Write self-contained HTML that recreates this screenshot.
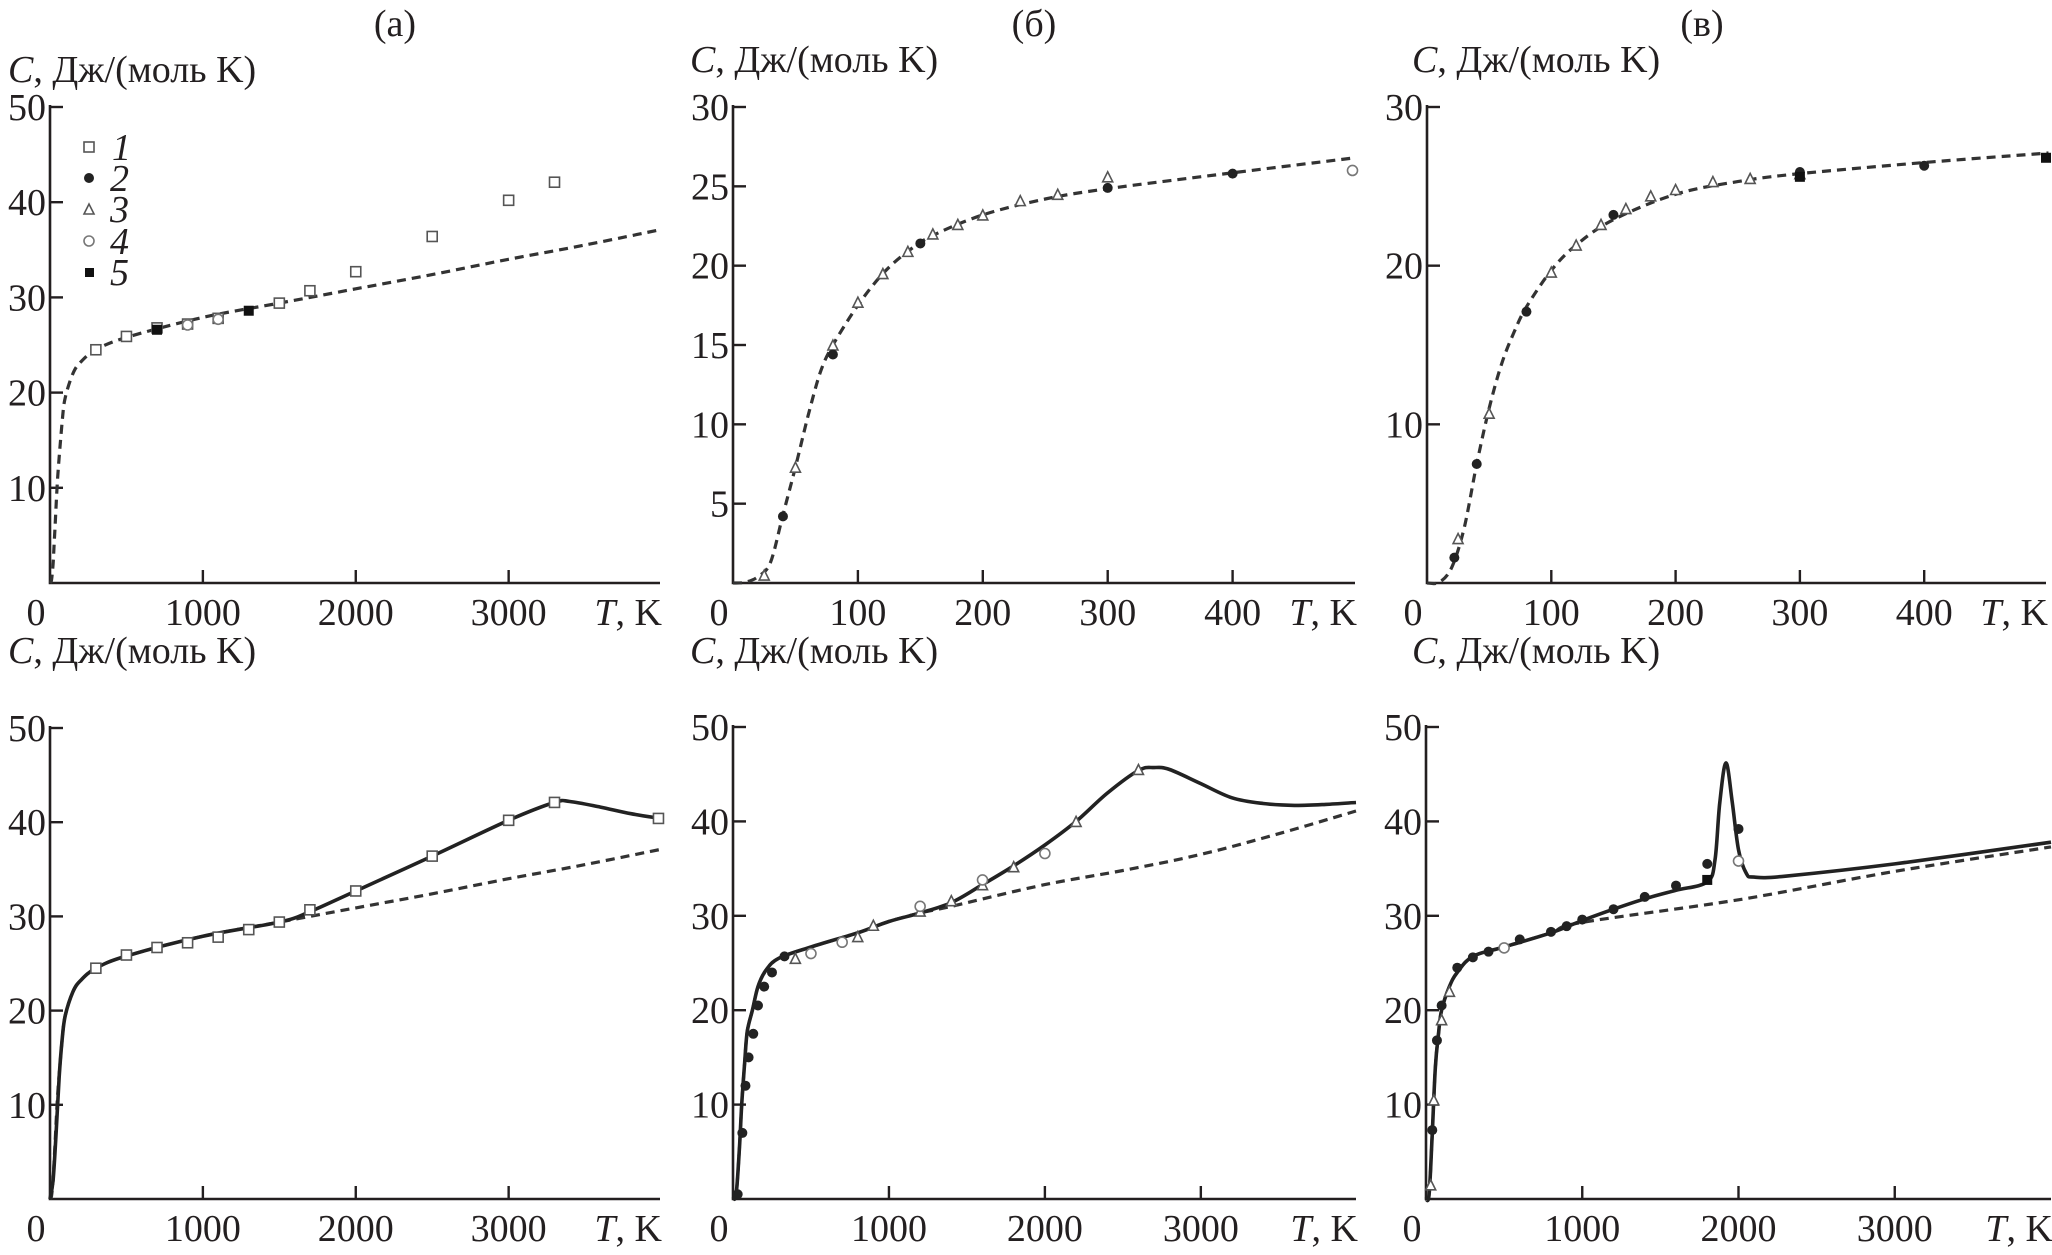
<!DOCTYPE html>
<html><head><meta charset="utf-8">
<style>
html,body{margin:0;padding:0;background:#fff;}
svg{display:block;}
svg text{font-family:"Liberation Serif","Times New Roman","DejaVu Serif",serif;fill:#231f20;}
</style></head>
<body>
<svg id="fig" width="2052" height="1255" viewBox="0 0 2052 1255" xmlns="http://www.w3.org/2000/svg" font-family="Liberation Serif, serif">
<text x="395" y="36" font-size="38" text-anchor="middle">(a)</text>
<text x="1034" y="36" font-size="38" text-anchor="middle">(б)</text>
<text x="1702" y="36" font-size="38" text-anchor="middle">(в)</text>
<g>
<rect x="84" y="142" width="10" height="10" fill="none" stroke="#555" stroke-width="1.6"/>
<text x="112" y="160" font-size="38" font-style="italic">1</text>
<circle cx="89" cy="178" r="5" fill="#222"/>
<text x="110" y="191" font-size="38" font-style="italic">2</text>
<path d="M84 214 L89 204 L94 214 Z" fill="none" stroke="#555" stroke-width="1.6"/>
<text x="110" y="222" font-size="38" font-style="italic">3</text>
<circle cx="89" cy="241" r="5" fill="none" stroke="#777" stroke-width="1.6"/>
<text x="110" y="254" font-size="38" font-style="italic">4</text>
<rect x="85" y="268" width="9" height="9" fill="#111"/>
<text x="110" y="285" font-size="38" font-style="italic">5</text>
</g>
</svg>
<script>
// ---------- data ----------
// top (a)
const aTopDashT = [0,10,20,30,50,80,100,150,200,300,500,1000,1500,2000,2500,3000,3500,3990];
const aTopDashC = [0,0.3,2,5,11,17,19.5,22,23.2,24.5,25.8,27.9,29.4,30.9,32.4,34.0,35.5,37.1];
const aSqT = [300,500,700,900,1100,1500,1700,2000,2500,3000,3300];
const aSqC = [24.5,25.9,26.8,27.2,27.8,29.4,30.7,32.7,36.4,40.2,42.1];
const aFillSqT = [700,1300];
const aFillSqC = [26.6,28.6];
const aCircT = [900,1100];
const aCircC = [27.1,27.7];
// bottom (a)
const aBotSolidT = [0,20,40,60,80,100,150,200,300,500,1000,1500,1700,2000,2500,3000,3300,3400,3600,3800,3990];
const aBotSolidC = [0,2,7,13,17,19.5,22,23.2,24.5,25.8,27.9,29.4,30.5,32.7,36.4,40.2,42.1,42.2,41.6,40.9,40.4];
const aBotSqT = [300,500,700,900,1100,1300,1500,1700,2000,2500,3000,3300,3980];
const aBotSqC = [24.5,25.9,26.7,27.2,27.8,28.6,29.4,30.7,32.7,36.4,40.2,42.1,40.4];
// top (б)
const bTopDashT = [0,10,20,30,40,50,60,70,80,100,120,140,160,200,250,300,400,498];
const bTopDashC = [0,0.05,0.4,1.3,4.3,7.3,10.5,13.3,15,17.5,19.5,20.9,21.9,23.2,24.2,24.85,25.85,26.8];
const bTopTriT = [25,50,80,100,120,140,160,180,200,230,260,300];
const bTopTriC = [0.5,7.3,15,17.7,19.5,20.9,22,22.6,23.2,24.1,24.5,25.6];
const bTopDotT = [40,80,150,300,400];
const bTopDotC = [4.2,14.4,21.4,24.9,25.8];
const bTopCircT = [496];
const bTopCircC = [26];
// bottom (б)
const bBotSolidT = [0,20,40,56,75,92,126,160,210,293,500,800,1000,1200,1400,1600,1800,2000,2200,2400,2600,2700,2800,3000,3200,3400,3600,3800,3995];
const bBotSolidC = [0,0.5,5,10,14.5,17.8,20.1,22.5,24.2,25.5,26.7,28.2,29.4,30.3,31.4,33.3,35.3,37.5,40,43,45.4,45.7,45.5,44,42.5,41.9,41.7,41.8,42.0];
const bBotDashT = [0,20,40,56,75,92,126,160,210,293,500,800,1000,1200,1400,2000,2500,3000,3500,3995];
const bBotDashC = [0,0.5,5,10,14.5,17.8,20.1,22.5,24.2,25.5,26.7,28.2,29.4,30.3,31.0,33.3,34.8,36.5,38.7,41.1];
const bBotDotT = [30,60,80,100,130,160,200,250,330];
const bBotDotC = [0.5,7,12,15,17.5,20.5,22.5,24,25.7];
const bBotTriT = [400,800,900,1200,1400,1600,1800,2200,2600];
const bBotTriC = [25.5,27.8,29,30.5,31.6,33.3,35.2,40,45.5];
const bBotCircT = [500,700,1200,1600,2000];
const bBotCircC = [26,27.2,31,33.8,36.6];
// top (в)
const cTopDashT = [0,10,20,30,40,50,60,70,80,100,120,150,200,250,300,400,500];
const cTopDashC = [0,0.05,1.0,3.5,7.5,11,13.8,15.8,17.4,19.7,21.3,22.9,24.5,25.3,25.8,26.5,27.1];
const cTopTriT = [25,50,100,120,140,160,180,200,230,260,300];
const cTopTriC = [2.8,10.7,19.6,21.3,22.6,23.6,24.4,24.8,25.3,25.5,25.8];
const cTopDotT = [22,40,80,150,300,400];
const cTopDotC = [1.6,7.5,17.1,23.2,25.9,26.3];
const cTopSqT = [300,498];
const cTopSqC = [25.6,26.8];
// bottom (в)
const cBotSolidT = [0,20,40,60,80,100,150,200,300,500,800,1000,1200,1400,1600,1800,1850,1880,1920,1960,2000,2050,2100,2300,3000,4000];
const cBotSolidC = [0,0.5,7,14,17.5,20,22.5,24,25.7,26.7,28.2,29.5,30.7,31.8,32.7,33.6,36,42,46.2,42,37,34.5,34.1,34.2,35.5,37.8];
const cBotDashT = [0,20,40,60,80,100,150,200,300,500,800,1000,2000,3000,4000];
const cBotDashC = [0,0.5,7,14,17.5,20,22.5,24,25.7,26.7,28.2,29.3,31.7,34.7,37.3];
const cBotDotT = [40,70,100,200,300,400,600,800,900,1000,1200,1400,1600,1800,2000];
const cBotDotC = [7.3,16.8,20.5,24.5,25.6,26.2,27.5,28.3,28.9,29.6,30.7,32,33.2,35.5,39.2];
const cBotTriT = [30,50,100,150];
const cBotTriC = [1.5,10.5,19,22];
const cBotCircT = [500,2000];
const cBotCircC = [26.6,35.8];
const cBotSqT = [1800];
const cBotSqC = [33.8];

// tick labels
const xTicksK = [0,1000,2000,3000];
const xTicksLow = [0,100,200,300,400];
const yTicks50 = [10,20,30,40,50];
const yTicksB = [5,10,15,20,25,30];
const yTicksC = [10,20,30];

// ---------- drawing ----------
const NS = 'http://www.w3.org/2000/svg';
const svg = document.getElementById('fig');
function mk(tag, attrs, parent){
  const e = document.createElementNS(NS, tag);
  for (const k in attrs) e.setAttribute(k, attrs[k]);
  (parent||svg).appendChild(e);
  return e;
}
function panel(p){
  const g = mk('g', {});
  
  
  const sx = t => p.x0 + t / p.xmax * (p.x1 - p.x0);
  const sy = c => p.y0 - c / p.ymax * (p.y0 - p.y1);
  p.sx = sx; p.sy = sy; p.g = g;
  const ax = mk('path', {d:`M${p.x0} ${p.y1-2} L${p.x0} ${p.y0} L${p.x1} ${p.y0}`, fill:'none', stroke:'#231f20', 'stroke-width':2.6}, g);
  
  
  p.yt.forEach(v => {
    const tk = mk('line', {x1:p.x0, x2:p.x0+13, y1:sy(v), y2:sy(v), stroke:'#231f20','stroke-width':2.4}, g);
    
    
    const tl = mk('text', {x:p.x0-4, y:sy(v)+13, 'font-size':38, 'text-anchor':'end'}, g);
    tl.textContent = v;
    
    
  });
  p.xt.forEach(v => {
    if (v !== 0) {
      const tk = mk('line', {x1:sx(v), x2:sx(v), y1:p.y0, y2:p.y0-13, stroke:'#231f20','stroke-width':2.4}, g);
      
      
    }
    const tl = mk('text', {x:(v===0? p.x0-14 : sx(v)), y:p.y0+42, 'font-size':38, 'text-anchor':'middle'}, g);
    tl.textContent = v;
    
    
  });
  const xl = mk('text', {x:p.x1+2, y:p.y0+42, 'font-size':38, 'text-anchor':'end'}, g);
  xl.innerHTML = '<tspan font-style="italic">T</tspan>, K';
  
  
  const yl = mk('text', {x:p.tx, y:p.ty, 'font-size':38}, g);
  yl.innerHTML = '<tspan font-style="italic">C</tspan>, Дж/(моль K)';
  
  
  return p;
}
function line(p, T, C, dashed, name){
  const P = T.map((t,i)=>[p.sx(t), p.sy(C[i])]);
  let d = `M${P[0][0].toFixed(1)} ${P[0][1].toFixed(1)}`;
  for (let i=0;i<P.length-1;i++){
    const p0 = P[Math.max(0,i-1)], p1 = P[i], p2 = P[i+1], p3 = P[Math.min(P.length-1,i+2)];
    const c1 = [p1[0]+(p2[0]-p0[0])/6, p1[1]+(p2[1]-p0[1])/6];
    const c2 = [p2[0]-(p3[0]-p1[0])/6, p2[1]-(p3[1]-p1[1])/6];
    d += ` C${c1[0].toFixed(1)} ${c1[1].toFixed(1)} ${c2[0].toFixed(1)} ${c2[1].toFixed(1)} ${p2[0].toFixed(1)} ${p2[1].toFixed(1)}`;
  }
  const e = mk('path', {d:d, fill:'none', stroke: dashed ? '#333' : '#222', 'stroke-width': dashed?3.2:3.6, 'stroke-dasharray': dashed?'9 6':'none', 'stroke-linejoin':'round'}, p.g);
  
  
}
function marks(p, T, C, type, name){
  T.forEach((t,i)=>{
    const x = p.sx(t), y = p.sy(C[i]);
    let e;
    if (type==='sq') e = mk('rect', {x:x-5, y:y-5, width:10, height:10, fill:'#fff', stroke:'#555','stroke-width':1.6}, p.g);
    else if (type==='fsq') e = mk('rect', {x:x-5, y:y-5, width:10, height:10, fill:'#111'}, p.g);
    else if (type==='dot') e = mk('circle', {cx:x, cy:y, r:5, fill:'#222'}, p.g);
    else if (type==='circ') e = mk('circle', {cx:x, cy:y, r:5, fill:'#fff', stroke:'#777','stroke-width':1.6}, p.g);
    else e = mk('path', {d:`M${x-5} ${y+5} L${x} ${y-5} L${x+5} ${y+5} Z`, fill:'#fff', stroke:'#555','stroke-width':1.6}, p.g);
    
    
  });
}

const pa1 = panel({name:'panel-a-top', x0:50, x1:660, xmax:3990, y0:583, y1:107, ymax:50, yt:yTicks50, xt:xTicksK, tx:8, ty:82});
line(pa1, aTopDashT, aTopDashC, true, 'debye-dashed-curve');
marks(pa1, aSqT, aSqC, 'sq', 'point-series-1');
marks(pa1, aCircT, aCircC, 'circ', 'point-series-4');
marks(pa1, aFillSqT, aFillSqC, 'fsq', 'point-series-5');

const pb1 = panel({name:'panel-b-top', x0:733, x1:1355, xmax:498, y0:583, y1:107, ymax:30, yt:yTicksB, xt:xTicksLow, tx:690, ty:72});
line(pb1, bTopDashT, bTopDashC, true, 'debye-dashed-curve');
marks(pb1, bTopTriT, bTopTriC, 'tri', 'point-series-3');
marks(pb1, bTopDotT, bTopDotC, 'dot', 'point-series-2');
marks(pb1, bTopCircT, bTopCircC, 'circ', 'point-series-4');

const pc1 = panel({name:'panel-c-top', x0:1427, x1:2046, xmax:498, y0:583, y1:107, ymax:30, yt:yTicksC, xt:xTicksLow, tx:1412, ty:72});
line(pc1, cTopDashT, cTopDashC, true, 'debye-dashed-curve');
marks(pc1, cTopTriT, cTopTriC, 'tri', 'point-series-3');
marks(pc1, cTopDotT, cTopDotC, 'dot', 'point-series-2');
marks(pc1, cTopSqT, cTopSqC, 'fsq', 'point-series-5');

const pa2 = panel({name:'panel-a-bottom', x0:50, x1:660, xmax:3990, y0:1199, y1:728, ymax:50, yt:yTicks50, xt:xTicksK, tx:8, ty:663});
line(pa2, aTopDashT, aTopDashC, true, 'debye-dashed-curve');
line(pa2, aBotSolidT, aBotSolidC, false, 'model-solid-curve');
marks(pa2, aBotSqT, aBotSqC, 'sq', 'point-series-1');

const pb2 = panel({name:'panel-b-bottom', x0:733, x1:1356, xmax:3995, y0:1199, y1:727, ymax:50, yt:yTicks50, xt:xTicksK, tx:690, ty:663});
line(pb2, bBotDashT, bBotDashC, true, 'debye-dashed-curve');
line(pb2, bBotSolidT, bBotSolidC, false, 'model-solid-curve');
marks(pb2, bBotDotT, bBotDotC, 'dot', 'point-series-2');
marks(pb2, bBotTriT, bBotTriC, 'tri', 'point-series-3');
marks(pb2, bBotCircT, bBotCircC, 'circ', 'point-series-4');

const pc2 = panel({name:'panel-c-bottom', x0:1426, x1:2051, xmax:4000, y0:1199, y1:727, ymax:50, yt:yTicks50, xt:xTicksK, tx:1412, ty:663});
line(pc2, cBotDashT, cBotDashC, true, 'debye-dashed-curve');
line(pc2, cBotSolidT, cBotSolidC, false, 'model-solid-curve');
marks(pc2, cBotDotT, cBotDotC, 'dot', 'point-series-2');
marks(pc2, cBotTriT, cBotTriC, 'tri', 'point-series-3');
marks(pc2, cBotCircT, cBotCircC, 'circ', 'point-series-4');
marks(pc2, cBotSqT, cBotSqC, 'fsq', 'point-series-5');
</script>
</body></html>
